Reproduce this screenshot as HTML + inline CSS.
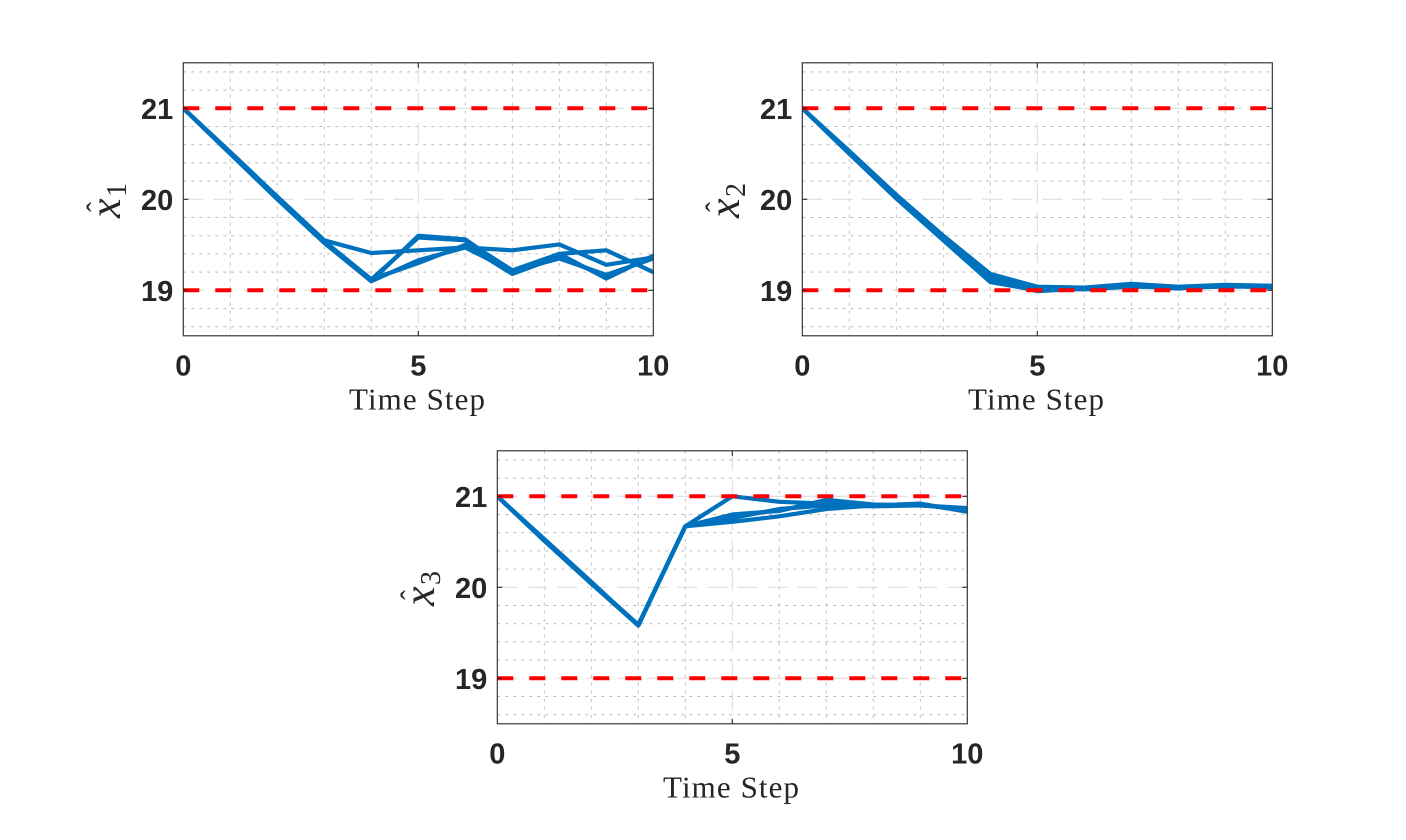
<!DOCTYPE html>
<html>
<head>
<meta charset="utf-8">
<style>
html,body{margin:0;padding:0;background:#fff;}
svg{display:block;}
</style>
</head>
<body>
<svg width="1406" height="840" viewBox="0 0 1406 840" xmlns="http://www.w3.org/2000/svg">
<defs>
  <clipPath id="c"><rect x="0" y="0" width="470" height="273"/></clipPath>
  <g id="grid">
    <g stroke="#bcbcbc" stroke-width="1" stroke-dasharray="3 5" fill="none">
      <line x1="0" y1="9.1" x2="470" y2="9.1"/>
      <line x1="0" y1="27.3" x2="470" y2="27.3"/>
      <line x1="0" y1="63.7" x2="470" y2="63.7"/>
      <line x1="0" y1="81.9" x2="470" y2="81.9"/>
      <line x1="0" y1="100.1" x2="470" y2="100.1"/>
      <line x1="0" y1="118.3" x2="470" y2="118.3"/>
      <line x1="0" y1="154.7" x2="470" y2="154.7"/>
      <line x1="0" y1="172.9" x2="470" y2="172.9"/>
      <line x1="0" y1="191.1" x2="470" y2="191.1"/>
      <line x1="0" y1="209.3" x2="470" y2="209.3"/>
      <line x1="0" y1="245.7" x2="470" y2="245.7"/>
      <line x1="0" y1="263.9" x2="470" y2="263.9"/>
      <line x1="47" y1="0" x2="47" y2="273"/>
      <line x1="94" y1="0" x2="94" y2="273"/>
      <line x1="141" y1="0" x2="141" y2="273"/>
      <line x1="188" y1="0" x2="188" y2="273"/>
      <line x1="282" y1="0" x2="282" y2="273"/>
      <line x1="329" y1="0" x2="329" y2="273"/>
      <line x1="376" y1="0" x2="376" y2="273"/>
      <line x1="423" y1="0" x2="423" y2="273"/>
    </g>
    <g stroke="#d9d9d9" stroke-width="1" stroke-dasharray="20 10" fill="none">
      <line x1="0" y1="45.5" x2="470" y2="45.5"/>
      <line x1="0" y1="136.5" x2="470" y2="136.5"/>
      <line x1="0" y1="227.5" x2="470" y2="227.5"/>
      <line x1="235" y1="0" x2="235" y2="273"/>
    </g>
  </g>
  <g id="ref" stroke="#ff0000" stroke-width="4" stroke-dasharray="16 16" fill="none">
    <line x1="0" y1="45.5" x2="470" y2="45.5"/>
    <line x1="0" y1="227.5" x2="470" y2="227.5"/>
  </g>
  <g id="frame" stroke="#262626" stroke-width="1.1" fill="none">
    <rect x="0" y="0" width="470" height="273"/>
    <line x1="0" y1="45.5" x2="5" y2="45.5"/>
    <line x1="0" y1="136.5" x2="5" y2="136.5"/>
    <line x1="0" y1="227.5" x2="5" y2="227.5"/>
    <line x1="465" y1="45.5" x2="470" y2="45.5"/>
    <line x1="465" y1="136.5" x2="470" y2="136.5"/>
    <line x1="465" y1="227.5" x2="470" y2="227.5"/>
    <line x1="235" y1="0" x2="235" y2="5"/>
    <line x1="235" y1="268" x2="235" y2="273"/>
  </g>
</defs>

<!-- Plot 1 -->
<g transform="translate(183.3,62.8)">
  <use href="#grid"/>
  <g clip-path="url(#c)" fill="none" stroke="#0072bd" stroke-width="4.2" stroke-linejoin="round" stroke-linecap="round">
    <polyline points="0,45.5 47,89.2 94,133.8 141,177.5 150,180 188,190.2 235,187.5 282,184.7 329,187.5 376,181.6 423,202 470,194.7"/>
    <polyline points="0,45.5 47,90.1 94,134.7 141,178.4 188,218.4 235,172.9 282,176.5 329,209.3 376,191.1 423,187.5 470,209.3"/>
    <polyline points="0,45.5 47,91 94,135.6 141,179.3 188,216.6 235,200.2 282,182 329,211.1 376,193.8 423,213.9 470,193.8"/>
    <polyline points="0,45.5 47,91 94,136.5 141,180.2 188,218.4 235,197.5 282,184.7 329,208.4 376,195.7 423,212 470,195.7"/>
    <polyline points="0,45.5 47,90.1 94,134.7 141,178.4 188,216.6 235,174.7 282,177.5 329,207.5 376,191.1 423,215.7 470,192.9"/>
  </g>
  <use href="#ref"/>
  <use href="#frame"/>
</g>

<!-- Plot 2 -->
<g transform="translate(802.3,62.8)">
  <use href="#grid"/>
  <g clip-path="url(#c)" fill="none" stroke="#0072bd" stroke-width="4.2" stroke-linejoin="round" stroke-linecap="round">
    <polyline points="0,45.5 47,88.3 94,132 141,172.9 188,211.1 235,223.9 282,224.8 329,221.1 376,223.9 423,222 470,223"/>
    <polyline points="0,45.5 47,89.2 94,133.8 141,175.6 188,216.6 235,228.4 282,225.7 329,222 376,224.8 423,223 470,224.8"/>
    <polyline points="0,45.5 47,90.1 94,134.7 141,174.7 188,212.9 235,225.7 282,226.6 329,223.9 376,224.8 423,223.9 470,223.9"/>
    <polyline points="0,45.5 47,91 94,135.6 141,177.5 188,219.3 235,227.5 282,225.7 329,223 376,225.7 423,223 470,223.9"/>
  </g>
  <use href="#ref"/>
  <use href="#frame"/>
</g>

<!-- Plot 3 -->
<g transform="translate(497.3,450.8)">
  <use href="#grid"/>
  <g clip-path="url(#c)" fill="none" stroke="#0072bd" stroke-width="4.2" stroke-linejoin="round" stroke-linecap="round">
    <polyline points="0,45.5 47,88.3 94,131 141,174.7 188,75.5 235,45.5 282,51 329,52.8 376,54.6 423,53.7 470,60.1"/>
    <polyline points="0,45.5 47,89.2 94,132 141,174.7 188,75.5 235,63.7 282,60.1 329,49.1 376,53.7 423,54.6 470,58.2"/>
    <polyline points="0,45.5 47,90.1 94,132.9 141,174.7 188,75.5 235,71 282,65.5 329,58.2 376,54.6 423,52.8 470,61"/>
    <polyline points="0,45.5 47,89.2 94,132 141,173.8 188,75.5 235,67.3 282,58.2 329,54.6 376,55.5 423,54.6 470,57.3"/>
  </g>
  <use href="#ref"/>
  <use href="#frame"/>
</g>

<!-- Tick labels -->
<g font-family="'Liberation Sans', Arial, sans-serif" font-weight="bold" font-size="29" fill="#262626">
  <g text-anchor="end">
    <text x="173.3" y="118.8">21</text>
    <text x="173.3" y="209.8">20</text>
    <text x="173.3" y="300.8">19</text>
    <text x="792.3" y="118.8">21</text>
    <text x="792.3" y="209.8">20</text>
    <text x="792.3" y="300.8">19</text>
    <text x="487.3" y="506.8">21</text>
    <text x="487.3" y="597.8">20</text>
    <text x="487.3" y="688.8">19</text>
  </g>
  <g text-anchor="middle">
    <text x="183.3" y="375.5">0</text>
    <text x="418.3" y="375.5">5</text>
    <text x="653.3" y="375.5">10</text>
    <text x="802.3" y="375.5">0</text>
    <text x="1037.3" y="375.5">5</text>
    <text x="1272.3" y="375.5">10</text>
    <text x="497.3" y="763.5">0</text>
    <text x="732.3" y="763.5">5</text>
    <text x="967.3" y="763.5">10</text>
  </g>
</g>

<!-- X labels -->
<g font-family="'Liberation Serif', 'Times New Roman', serif" font-size="31" fill="#262626">
  <text x="349" y="409.5" textLength="136" lengthAdjust="spacing">Time Step</text>
  <text x="968" y="409.5" textLength="136" lengthAdjust="spacing">Time Step</text>
  <text x="663" y="797.5" textLength="136" lengthAdjust="spacing">Time Step</text>
</g>

<!-- Y labels -->
<g font-family="'Liberation Serif', 'Times New Roman', serif" fill="#262626">
  <g transform="translate(120,218) rotate(-90)">
    <text x="0" y="0" font-style="italic" font-size="44">x</text>
    <text x="21" y="6" font-size="28">1</text>
    <text x="11" y="-13" font-size="30" text-anchor="middle">ˆ</text>
  </g>
  <g transform="translate(739,218) rotate(-90)">
    <text x="0" y="0" font-style="italic" font-size="44">x</text>
    <text x="21" y="6" font-size="28">2</text>
    <text x="11" y="-13" font-size="30" text-anchor="middle">ˆ</text>
  </g>
  <g transform="translate(434,606) rotate(-90)">
    <text x="0" y="0" font-style="italic" font-size="44">x</text>
    <text x="21" y="6" font-size="28">3</text>
    <text x="11" y="-13" font-size="30" text-anchor="middle">ˆ</text>
  </g>
</g>
</svg>
</body>
</html>
